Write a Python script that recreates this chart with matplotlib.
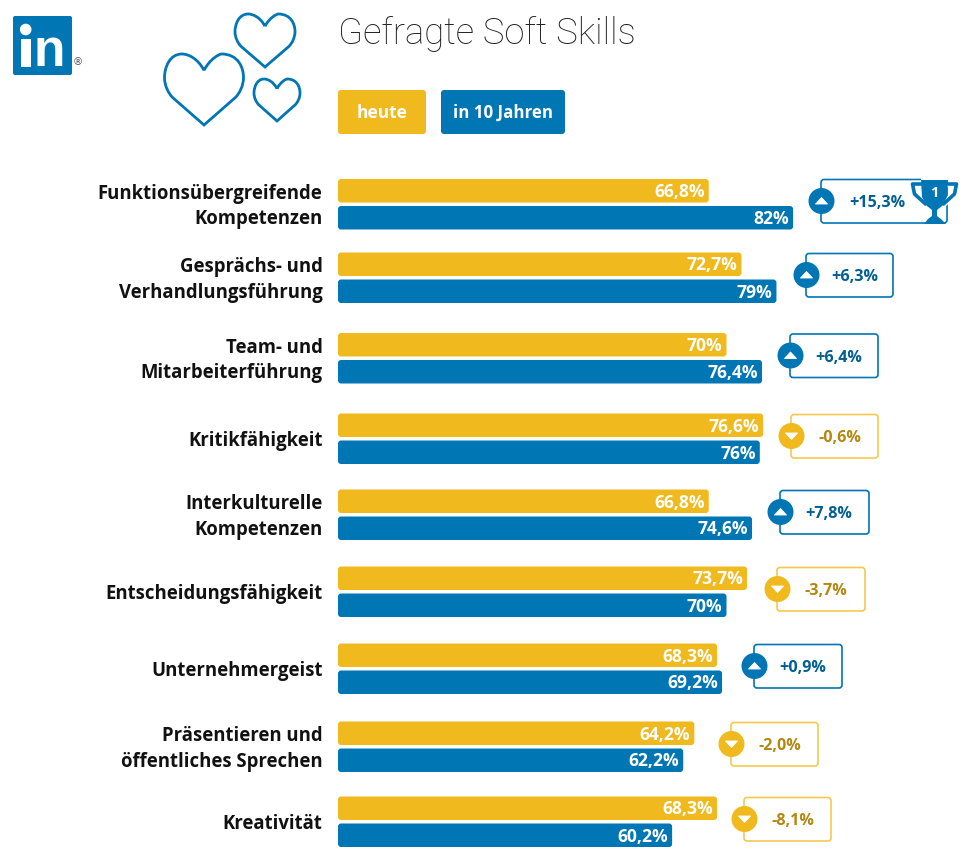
import matplotlib
matplotlib.use("Agg")
import matplotlib.pyplot as plt
from matplotlib.patches import FancyBboxPatch, Circle, Polygon, PathPatch, Rectangle
from matplotlib.path import Path

# ---- data ----
categories = ["Funktionsübergreifende\nKompetenzen", "Gesprächs- und\nVerhandlungsführung",
              "Team- und\nMitarbeiterführung", "Kritikfähigkeit", "Interkulturelle\nKompetenzen",
              "Entscheidungsfähigkeit", "Unternehmergeist", "Präsentieren und\nöffentliches Sprechen",
              "Kreativität"]
today = [66.8, 72.7, 70, 76.6, 66.8, 73.7, 68.3, 64.2, 68.3]
future = [82, 79, 76.4, 76, 74.6, 70, 69.2, 62.2, 60.2]
change = ["+15,3%", "+6,3%", "+6,4%", "-0,6%", "+7,8%", "-3,7%", "+0,9%", "-2,0%", "-8,1%"]
value_today = ["66,8%", "72,7%", "70%", "76,6%", "66,8%", "73,7%", "68,3%", "64,2%", "68,3%"]
value_future = ["82%", "79%", "76,4%", "76%", "74,6%", "70%", "69,2%", "62,2%", "60,2%"]
legend_labels = ["heute", "in 10 Jahren"]
title = "Gefragte Soft Skills"

# ---- layout (pixels) ----
W, H = 971, 857
row_y = [204.5, 278, 358.5, 439, 515, 592, 669, 747, 822]
box_left = [821, 806, 790, 791, 780, 777, 754, 731, 744]
box_width = [126, 87, 88, 87, 89, 88, 88, 87, 87]
YEL, BLU = "#F0BA1E", "#0076B5"
YEL_L, BLU_T, YEL_T = "#F6C84E", "#005F94", "#B3880F"
X0, PX = 338, 5.55
FONT = ["Open Sans", "DejaVu Sans"]

fig = plt.figure(figsize=(W / 100, H / 100), dpi=100)
ax = fig.add_axes([0, 0, 1, 1])
ax.set_xlim(-X0 / PX, (W - X0) / PX)
ax.set_ylim(H, 0)
ax.axis("off")
deco = fig.add_axes([0, 0, 1, 1], frameon=False)
deco.set_xlim(0, W)
deco.set_ylim(H, 0)
deco.axis("off")

def bar(v, y, h, c):
    ax.add_patch(FancyBboxPatch((0, y), v, h, boxstyle="round,pad=0,rounding_size=0.55",
                                mutation_aspect=PX, fc=c, ec="none"))

def rbox(x, y, w, h, **kw):
    deco.add_patch(FancyBboxPatch((x, y), w, h, boxstyle="round,pad=0,rounding_size=3", **kw))

def heart(cx, top, w, h, lw=2):
    l, r, b = cx - w / 2, cx + w / 2, top + h
    n = top + h * 0.23
    v = [(cx, n),
         (cx - w * .08, top + h * .06), (cx - w * .2, top), (cx - w * .28, top),
         (l + w * .06, top), (l, top + h * .2), (l, top + h * .33),
         (l, top + h * .45), (l + w * .05, top + h * .55), (l + w * .1, top + h * .61),
         (cx, b),
         (r - w * .1, top + h * .61),
         (r - w * .05, top + h * .55), (r, top + h * .45), (r, top + h * .33),
         (r, top + h * .2), (r - w * .06, top), (cx + w * .22, top),
         (cx + w * .2, top), (cx + w * .08, top + h * .06), (cx, n)]
    codes = [Path.MOVETO] + [Path.CURVE4] * 9 + [Path.LINETO, Path.LINETO] + [Path.CURVE4] * 9
    deco.add_patch(PathPatch(Path(v, codes), fc="none", ec=BLU, lw=lw, joinstyle="miter"))

for i, cat in enumerate(categories):
    y = row_y[i]
    bar(today[i], y - 25.5, 23.5, YEL)
    bar(future[i], y + 1.5, 23.5, BLU)
    ax.text(today[i] - 0.75, y - 12.5, value_today[i], color="white", ha="right", va="center",
            fontsize=12.6, fontweight="bold", family=FONT)
    ax.text(future[i] - 0.75, y + 14.5, value_future[i], color="white", ha="right", va="center",
            fontsize=12.6, fontweight="bold", family=FONT)
    deco.text(322.5, y + 2, cat, ha="right", va="center", fontsize=13.35, fontweight="bold",
              family=FONT, color="#111111", linespacing=1.38)
    up = change[i].startswith("+")
    c, tc, ec = (BLU, BLU_T, BLU) if up else (YEL, YEL_T, YEL_L)
    xl, w = box_left[i], box_width[i]
    cy = y - 3 if i != 0 else y - 3.5
    rbox(xl, cy - 21.5, w, 43.5, fc="white", ec=ec, lw=1.2)
    deco.add_patch(Circle((xl + .5, cy), 13, fc=c, ec="none", zorder=3))
    cx = xl + .5
    tri = [(cx - 6, cy + 3), (cx + 6, cy + 3), (cx, cy - 3.5)] if up else [(cx - 6, cy - 3), (cx + 6, cy - 3), (cx, cy + 3.5)]
    deco.add_patch(Polygon(tri, fc="white", ec="white", lw=.6, joinstyle="round", zorder=4))
    deco.text(xl + (56 if i == 0 else 49), cy + 2, change[i], ha="center", va="center",
              fontsize=11.6, fontweight="bold", family=FONT, color=tc, zorder=4)

# trophy
deco.add_patch(Rectangle((921, 178), 28, 4, fc="white", ec="none", zorder=4.5))
deco.add_patch(Polygon([(921, 180), (948, 180), (947, 197), (942, 206), (937, 210), (937, 216),
                        (941, 219), (946, 224), (924, 224), (928, 219), (932, 216), (932, 210),
                        (927, 206), (922, 197)], fc=BLU, ec="none", zorder=5))
for sx in (1, -1):
    xc = 934.5
    handle = [(xc + sx * 13, 184), (xc + sx * 22, 184), (xc + sx * 20, 194), (xc + sx * 9, 204)]
    deco.plot(*zip(*handle), color="white", lw=4.5, zorder=4.6, solid_capstyle="round")
    deco.plot(*zip(*handle), color=BLU, lw=2.6, zorder=5, solid_capstyle="round")
deco.text(934.5, 192.5, "1", color="white", ha="center", va="center", fontsize=10.5,
          fontweight="bold", family=FONT, zorder=6)

# hearts
heart(265, 14, 60, 53)
heart(204, 54, 79, 71)
heart(277, 79, 46, 42)

# logo
deco.add_patch(FancyBboxPatch((13, 16), 59, 59, boxstyle="round,pad=0,rounding_size=2", fc=BLU, ec="none"))
deco.add_patch(Rectangle((20.5, 39), 10.5, 28, fc="white", ec="none"))
deco.add_patch(Circle((25.7, 29.5), 5.8, fc="white", ec="none"))
deco.text(49, 52.5, "n", color="white", fontsize=37, fontweight="bold", family="Liberation Sans",
          ha="center", va="center")
deco.text(78, 62, "®", color="#555555", fontsize=7.5, ha="center", va="center", family="DejaVu Sans")

# title and legend
deco.text(338, 34, title, ha="left", va="center", fontsize=26.3, fontweight="light",
          family=["Roboto", "Open Sans"], color="#222222")
rbox(338, 90, 88, 44, fc=YEL, ec="none")
rbox(441, 90, 124, 44, fc=BLU, ec="none")
deco.text(382, 113, legend_labels[0], color="white", ha="center", va="center", fontsize=12.5,
          fontweight="bold", family=FONT)
deco.text(503, 113, legend_labels[1], color="white", ha="center", va="center", fontsize=12.2,
          fontweight="bold", family=FONT)

fig.savefig("out.png", dpi=100)
